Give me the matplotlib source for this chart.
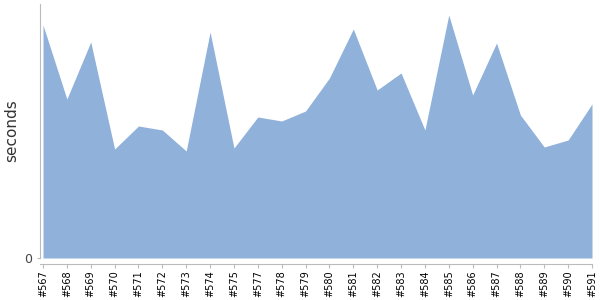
import matplotlib
matplotlib.use("Agg")
import matplotlib.pyplot as plt
import numpy as np

builds = ["#567", "#568", "#569", "#570", "#571", "#572", "#573", "#574", "#575",
          "#577", "#578", "#579", "#580", "#581", "#582", "#583", "#584", "#585",
          "#586", "#587", "#588", "#589", "#590", "#591"]
seconds = [233, 159, 216, 109, 132, 128, 107, 226, 110, 141, 137, 147, 180, 229,
           168, 185, 128, 243, 163, 215, 143, 111, 118, 154]

fig = plt.figure(figsize=(6, 3), dpi=100)
ax = fig.add_axes([40 / 600, 42 / 300, 552 / 600, 254 / 300])

x = np.arange(len(builds))
ax.fill_between(x, seconds, 0, color="#8fb1da", linewidth=0)

ax.set_xlim(-0.126, len(builds) - 1)
ax.set_ylim(0, 254)
ax.set_xticks(x, builds)
ax.set_yticks([0], ["0"])

for s in ["top", "right"]:
    ax.spines[s].set_visible(False)
for s in ["left", "bottom"]:
    ax.spines[s].set_color("#bbbbbb")
ax.spines["bottom"].set_position(("outward", 4))
ax.tick_params(axis="x", colors="#bbbbbb", labelcolor="black", length=3, pad=2,
               labelrotation=90, labelsize=7)
ax.tick_params(axis="y", colors="#bbbbbb", labelcolor="#444444", length=2, pad=4,
               labelsize=9)
ax.set_ylabel("seconds", fontsize=11, color="#333333", labelpad=3)

fig.savefig("out.png")
